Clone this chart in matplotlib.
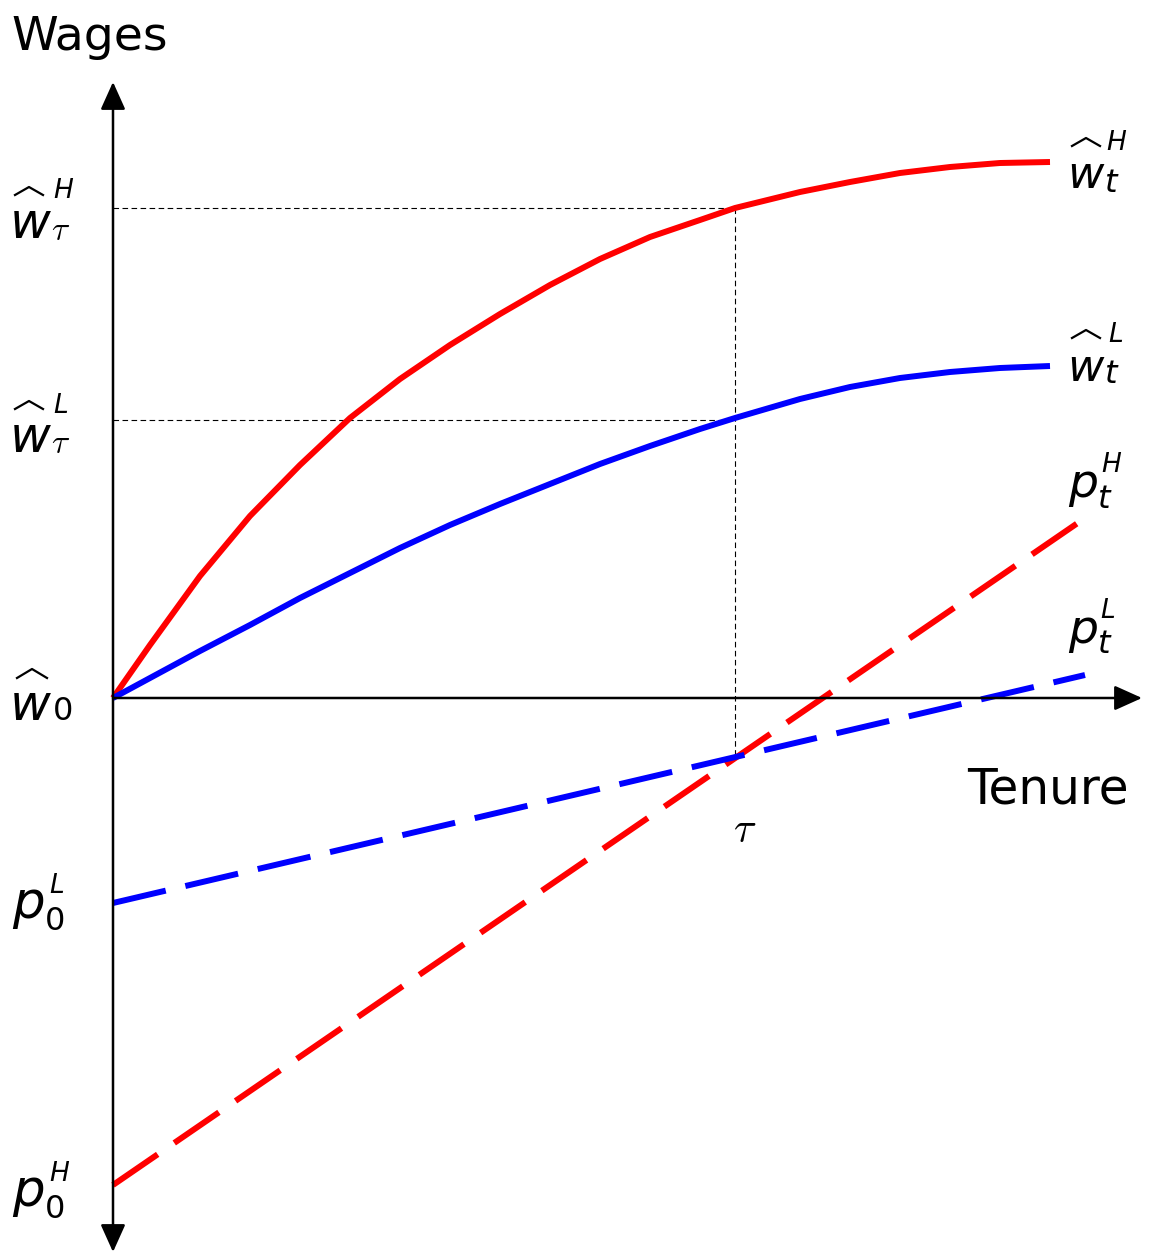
import numpy as np
import matplotlib
matplotlib.use("Agg")
import matplotlib.pyplot as plt

plt.rcParams['font.family'] = ['DejaVu Sans']
plt.rcParams['lines.scale_dashes'] = False

# tenure / wage values (chart units, origin at w0)
tenure = [0, 0.37, 0.87, 1.37, 1.87, 2.37, 2.87, 3.37, 3.87, 4.37, 4.87, 5.37,
          5.87, 6.22, 6.87, 7.37, 7.87, 8.37, 8.87, 9.37]
wage_high = [0, 0.53, 1.22, 1.82, 2.33, 2.80, 3.19, 3.53, 3.84, 4.13, 4.39, 4.61,
             4.78, 4.90, 5.06, 5.16, 5.25, 5.31, 5.35, 5.36]
wage_low = [0, 0.20, 0.47, 0.73, 1.00, 1.25, 1.50, 1.73, 1.94, 2.14, 2.34, 2.52,
            2.69, 2.80, 2.99, 3.11, 3.20, 3.26, 3.30, 3.32]

prod_t = [0, 9.72]
prod_high = [-4.87, 1.80]
prod_low = [-2.05, 0.23]

tau = 6.22
w_tau_high = 4.90
w_tau_low = 2.78
p_tau = -0.58

fig = plt.figure(figsize=(11.51, 12.57), dpi=100)
ax = fig.add_axes([0, 0, 1, 1])
ax.set_xlim(-1.13, 10.38)
ax.set_ylim(-5.59, 6.98)
ax.axis('off')

def px(x, y):
    return (x - 113) / 100.0, (698 - y) / 100.0

# axes with arrows
ax.annotate('', xy=(10.29, 0), xytext=(0, 0),
            arrowprops=dict(arrowstyle='-|>,head_length=1.0,head_width=0.45',
                            mutation_scale=17, lw=1.8, color='black',
                            shrinkA=0, shrinkB=0))
ax.annotate('', xy=(0, 6.16), xytext=(0, -5.54),
            arrowprops=dict(arrowstyle='<|-|>,head_length=1.0,head_width=0.45',
                            mutation_scale=17, lw=1.8, color='black',
                            shrinkA=0, shrinkB=0))

# guide lines
ax.plot([0, tau], [w_tau_high, w_tau_high], color='black', lw=0.8, ls=(0, (4, 2.5)))
ax.plot([0, tau], [w_tau_low, w_tau_low], color='black', lw=0.8, ls=(0, (4, 2.5)))
ax.plot([tau, tau], [w_tau_high, p_tau], color='black', lw=0.8, ls=(0, (4, 2.5)))

# curves
ax.plot(tenure, wage_high, color='#ff0000', lw=4.3, solid_capstyle='butt',
        solid_joinstyle='round')
ax.plot(tenure, wage_low, color='#0000ff', lw=4.3, solid_capstyle='butt',
        solid_joinstyle='round')
ax.plot(prod_t, prod_high, color='#ff0000', lw=4.3, ls=(0, (39, 14.5)), dash_capstyle='butt')
ax.plot(prod_t, prod_low, color='#0000ff', lw=4.3, ls=(0, (39, 14.5)), dash_capstyle='butt')

# text
ax.text(*px(11, 50), 'Wages', fontsize=34, ha='left', va='baseline')
ax.text(*px(967, 804), 'Tenure', fontsize=35, ha='left', va='baseline')
ax.text(*px(733, 842), r'$\tau$', fontsize=30, math_fontfamily='cm', ha='left', va='baseline')

def hat(x0, x1, ytop, ybot):
    xs = np.array([x0, (x0 + x1) / 2.0, x1])
    ys = np.array([ybot, ytop, ybot])
    pts = [px(a, b) for a, b in zip(xs, ys)]
    ax.plot([p[0] for p in pts], [p[1] for p in pts], color='black', lw=1.6,
            solid_joinstyle='round')

def wlabel(x, base, sup, sup_base, sub, sub_base, size, subsize, supx, subx,
           hat_y, math_sub=False):
    ax.text(*px(x, base), 'w', fontsize=size, style='italic', ha='left', va='baseline')
    ax.text(*px(supx, sup_base), sup, fontsize=subsize, style='italic',
            ha='left', va='baseline')
    if math_sub:
        ax.text(*px(subx, sub_base), sub, fontsize=subsize + 5, math_fontfamily='cm',
                ha='left', va='baseline')
    else:
        ax.text(*px(subx, sub_base), sub, fontsize=subsize + 4,
                style='italic', ha='left', va='baseline')
    hat(x + 5, x + 33, hat_y, hat_y + 8)

wlabel(10, 238, 'H', 198, r'$\tau$', 240, 36, 19, 53, 51, 187, math_sub=True)
wlabel(10, 452, 'L', 413, r'$\tau$', 453, 36, 19, 53, 51, 401, math_sub=True)
ax.text(*px(10, 720), 'w', fontsize=36, style='italic', ha='left', va='baseline')
ax.text(*px(53, 720), '0', fontsize=23, ha='left', va='baseline')
hat(17, 47, 669, 678)

wlabel(1067, 188, 'H', 150, 't', 192, 32, 19, 1106, 1105, 138)
wlabel(1067, 381, 'L', 342, 't', 383, 32, 19, 1108, 1105, 330)

def plabel(x, base, sup, sup_x, sup_base, sub, sub_x, sub_base, size, sub_italic):
    ax.text(*px(x, base), 'p', fontsize=size, style='italic', ha='left', va='baseline')
    ax.text(*px(sup_x, sup_base), sup, fontsize=19, style='italic', ha='left', va='baseline')
    ax.text(*px(sub_x, sub_base), sub, fontsize=23,
            style='italic' if sub_italic else 'normal', ha='left', va='baseline')

plabel(12, 918, 'L', 49, 893, '0', 45, 930, 37, False)
plabel(12, 1206, 'H', 49, 1181, '0', 45, 1218, 37, False)
plabel(1068, 497, 'H', 1101, 472, 't', 1098, 508, 34, True)
plabel(1068, 643, 'L', 1100, 618, 't', 1098, 653, 34, True)

fig.savefig('out.png', dpi=100)
